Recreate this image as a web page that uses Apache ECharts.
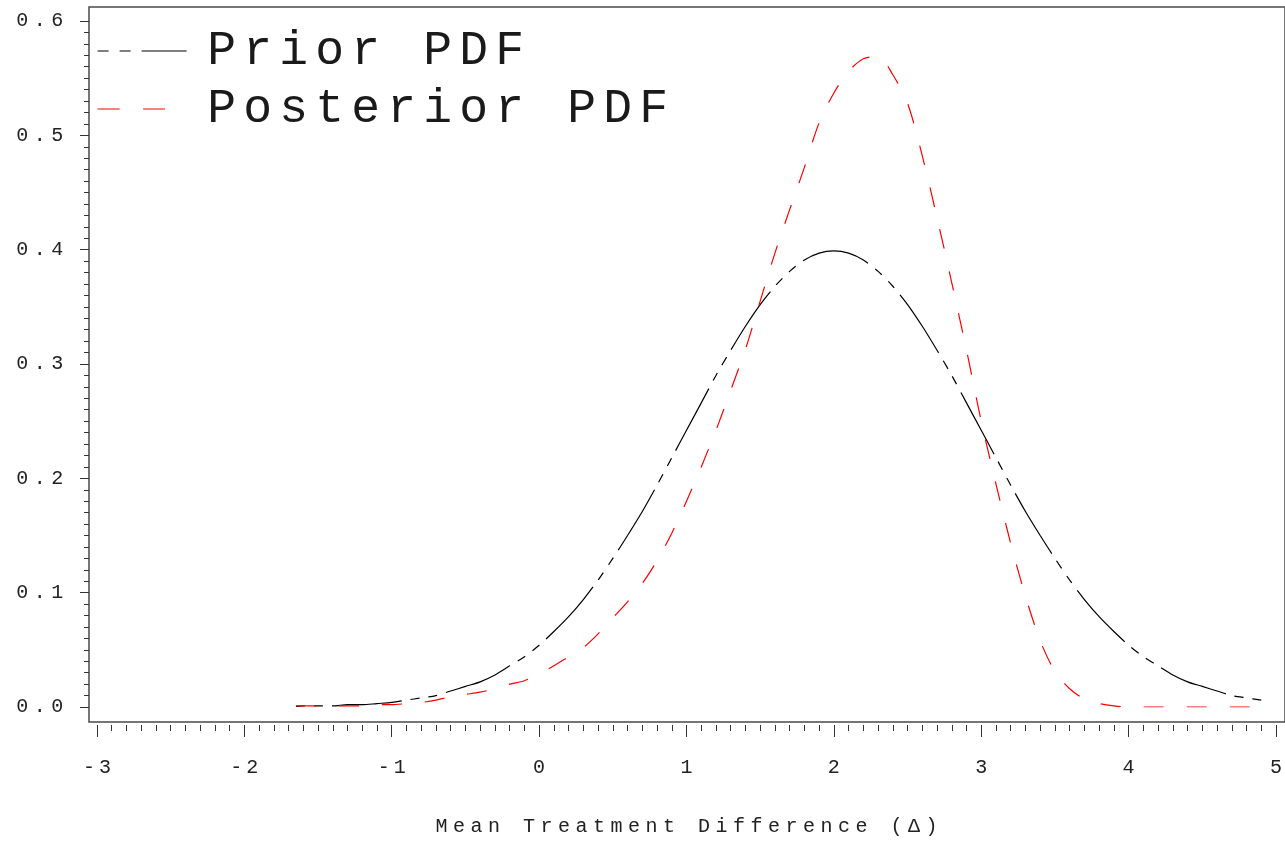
<!DOCTYPE html>
<html>
<head>
<meta charset="utf-8">
<script src="https://cdn.jsdelivr.net/npm/echarts@6/dist/echarts.min.js"></script>
<style>
  html, body { margin: 0; padding: 0; background: #fff; }
  #chart { width: 1285px; height: 843px; }
</style>
</head>
<body>
<div id="chart"></div>
<script>
// values
const xValues = [-1.65, -1.6, -1.5, -1.4, -1.3, -1.2, -1.1, -1.0, -0.9, -0.8, -0.7, -0.6, -0.5, -0.4, -0.3, -0.2, -0.1,
  0.0, 0.1, 0.2, 0.3, 0.4, 0.5, 0.6, 0.7, 0.8, 0.9, 1.0, 1.1, 1.2, 1.3, 1.4, 1.5, 1.6, 1.7, 1.8, 1.9,
  2.0, 2.1, 2.2, 2.3, 2.4, 2.5, 2.6, 2.7, 2.8, 2.9, 3.0, 3.1, 3.2, 3.3, 3.4, 3.5, 3.6, 3.7, 3.8, 3.9,
  4.0, 4.1, 4.2, 4.3, 4.4, 4.5, 4.6, 4.7, 4.8, 4.9];

const priorPdf = [0.0005, 0.001, 0.001, 0.001, 0.002, 0.002, 0.003, 0.004, 0.006, 0.008, 0.010, 0.014, 0.018, 0.022, 0.028, 0.036, 0.044,
  0.054, 0.066, 0.079, 0.094, 0.111, 0.130, 0.150, 0.171, 0.194, 0.218, 0.242, 0.266, 0.290, 0.312, 0.333, 0.352, 0.368, 0.381, 0.391, 0.397,
  0.399, 0.397, 0.391, 0.381, 0.368, 0.352, 0.333, 0.312, 0.290, 0.266, 0.242, 0.218, 0.194, 0.171, 0.150, 0.130, 0.111, 0.094, 0.079, 0.066,
  0.054, 0.044, 0.036, 0.028, 0.022, 0.018, 0.014, 0.010, 0.008, 0.006];

const posteriorPdf = [0.001, 0.001, 0.001, 0.001, 0.001, 0.001, 0.002, 0.002, 0.003, 0.004, 0.006, 0.009, 0.011, 0.013, 0.016, 0.020, 0.023,
  0.029, 0.036, 0.044, 0.052, 0.064, 0.078, 0.092, 0.108, 0.128, 0.152, 0.180, 0.210, 0.242, 0.277, 0.313, 0.355, 0.397, 0.435, 0.472, 0.511,
  0.537, 0.556, 0.567, 0.569, 0.553, 0.528, 0.482, 0.428, 0.371, 0.312, 0.250, 0.195, 0.143, 0.097, 0.058, 0.031, 0.016, 0.007, 0.003, 0.001,
  0.000, 0.000, 0.000, 0.000, 0.000, 0.000, 0.000, 0.000, 0.000, 0.000];

const seriesNames = ['Prior PDF', 'Posterior PDF'];
const xTitle = 'Mean Treatment Difference (Δ)';

const FONT = 'Liberation Mono';

// spread characters into fixed cells (SAS-like letter spacing)
const spaced = (str, style) => str.split('').map(ch => `{${style}|${ch}}`).join('');

const chart = echarts.init(document.getElementById('chart'));

const option = {
  animation: false,
  backgroundColor: '#fff',
  grid: [
    // frame
    { left: 89, top: 7, right: -3, bottom: 121, show: true, borderColor: '#4a4a4a', borderWidth: 1.5, backgroundColor: 'transparent' },
    // data area: -3..5 and 0..0.6
    { left: 97, top: 21, width: 1184, height: 686 }
  ],
  legend: {
    orient: 'vertical',
    left: 97,
    top: 27,
    padding: 0,
    itemWidth: 90,
    itemHeight: 40,
    itemGap: 10,
    data: [
      { name: seriesNames[0], itemStyle: { opacity: 0 }, lineStyle: { color: '#000', width: 1.2, type: [11, 11, 11, 11, 45, 11] } },
      { name: seriesNames[1], itemStyle: { opacity: 0 }, lineStyle: { color: '#ff0000', width: 1.2, type: [22, 23.5] } }
    ],
    formatter: name => '{g| }' + spaced(name, 'c'),
    textStyle: {
      rich: {
        g: { width: 11, fontSize: 20, lineHeight: 40, fontFamily: FONT },
        c: { width: 36, align: 'center', fontSize: 48, fontFamily: FONT, color: '#1a1a1a', lineHeight: 40 }
      }
    }
  },
  xAxis: [
    { gridIndex: 0, type: 'value', show: false, min: 0, max: 1 },
    {
      gridIndex: 1,
      type: 'value',
      min: -3,
      max: 5,
      interval: 1,
      offset: 18,
      axisLine: { show: false, onZero: false },
      axisTick: { show: true, length: 12, lineStyle: { color: '#333', width: 1 } },
      minorTick: { show: true, splitNumber: 10, length: 6, lineStyle: { color: '#333', width: 1 } },
      splitLine: { show: false },
      axisLabel: {
        margin: 33,
        formatter: v => spaced(String(v), 'c'),
        rich: { c: { width: 16, align: 'center', fontSize: 20, fontFamily: FONT, color: '#222' } }
      },
      name: spaced(xTitle, 'c'),
      nameLocation: 'middle',
      nameGap: 92,
      nameTextStyle: {
        rich: { c: { width: 17.5, align: 'center', fontSize: 20, fontFamily: FONT, color: '#222' } }
      }
    }
  ],
  yAxis: [
    { gridIndex: 0, type: 'value', show: false, min: 0, max: 1 },
    {
      gridIndex: 1,
      type: 'value',
      min: 0,
      max: 0.6,
      interval: 0.1,
      offset: 8,
      axisLine: { show: false, onZero: false },
      axisTick: { show: true, length: 9, lineStyle: { color: '#333', width: 1 } },
      minorTick: { show: true, splitNumber: 10, length: 5, lineStyle: { color: '#333', width: 1 } },
      splitLine: { show: false },
      axisLabel: {
        margin: 23,
        formatter: v => spaced(v.toFixed(1), 'c'),
        rich: { c: { width: 17.5, align: 'center', fontSize: 20, fontFamily: FONT, color: '#222' } }
      }
    }
  ],
  series: [
    {
      name: seriesNames[0],
      type: 'line',
      xAxisIndex: 1,
      yAxisIndex: 1,
      symbol: 'none',
      smooth: 0.3,
      data: xValues.map((x, i) => [x, priorPdf[i]]),
      lineStyle: { color: '#000', width: 1.2, type: [9, 9, 9, 9, 70, 9] },
      itemStyle: { color: '#000' }
    },
    {
      name: seriesNames[1],
      type: 'line',
      xAxisIndex: 1,
      yAxisIndex: 1,
      symbol: 'none',
      smooth: 0.3,
      data: xValues.map((x, i) => [x, posteriorPdf[i]]),
      lineStyle: { color: '#ff0000', width: 1.2, type: [20, 23] },
      itemStyle: { color: '#ff0000' }
    }
  ]
};

chart.setOption(option);
</script>
</body>
</html>
